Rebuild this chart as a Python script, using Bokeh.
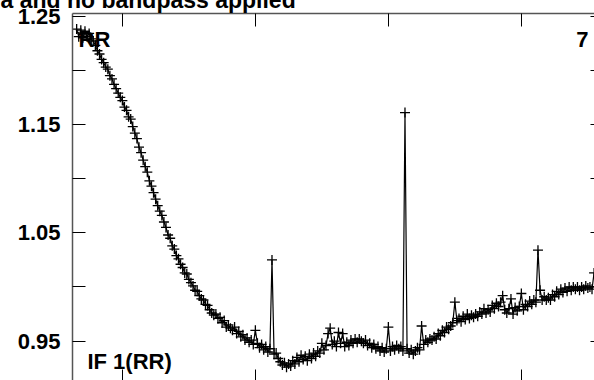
from bokeh.plotting import figure
from bokeh.models import Range1d, LinearAxis, FixedTicker, Label
from bokeh.embed import file_html
from bokeh.resources import INLINE

# ---- data ----
channels = list(range(10, 260))
amplitude = [
    1.238, 1.231, 1.237, 1.230, 1.236, 1.231, 1.234, 1.229, 1.227, 1.223,
    1.218, 1.215, 1.210, 1.207, 1.203, 1.201, 1.195, 1.192, 1.187, 1.183,
    1.179, 1.175, 1.172, 1.166, 1.163, 1.157, 1.155, 1.148, 1.142, 1.137,
    1.129, 1.124, 1.117, 1.111, 1.106, 1.098, 1.093, 1.087, 1.081, 1.075,
    1.070, 1.066, 1.060, 1.055, 1.048, 1.045, 1.038, 1.035, 1.029, 1.026,
    1.021, 1.018, 1.013, 1.012, 1.007, 1.004, 1.001, 0.997, 0.996, 0.992,
    0.989, 0.988, 0.984, 0.983, 0.979, 0.976, 0.974, 0.975, 0.971, 0.972,
    0.967, 0.969, 0.963, 0.965, 0.962, 0.960, 0.963, 0.957, 0.959, 0.954,
    0.956, 0.951, 0.953, 0.949, 0.951, 0.947, 0.960, 0.948, 0.944, 0.947,
    0.942, 0.945, 0.940, 0.943, 1.025, 0.938, 0.939, 0.934, 0.931, 0.928,
    0.930, 0.926, 0.929, 0.927, 0.932, 0.929, 0.935, 0.931, 0.937, 0.933,
    0.936, 0.932, 0.938, 0.934, 0.939, 0.936, 0.941, 0.939, 0.948, 0.942,
    0.946, 0.957, 0.962, 0.947, 0.950, 0.945, 0.958, 0.948, 0.957, 0.945,
    0.949, 0.946, 0.951, 0.948, 0.952, 0.949, 0.952, 0.950, 0.948, 0.951,
    0.946, 0.948, 0.944, 0.947, 0.943, 0.945, 0.941, 0.944, 0.940, 0.943,
    0.963, 0.941, 0.945, 0.942, 0.946, 0.943, 0.945, 0.941, 1.161, 0.943,
    0.939, 0.942, 0.938, 0.941, 0.944, 0.942, 0.964, 0.947, 0.951, 0.949,
    0.952, 0.951, 0.954, 0.952, 0.957, 0.955, 0.960, 0.958, 0.963, 0.961,
    0.964, 0.967, 0.986, 0.969, 0.971, 0.968, 0.973, 0.970, 0.975, 0.971,
    0.974, 0.972, 0.975, 0.973, 0.977, 0.975, 0.980, 0.976, 0.979, 0.977,
    0.983, 0.980, 0.985, 0.982, 0.986, 0.992, 0.979, 0.976, 0.980, 0.989,
    0.975, 0.981, 0.978, 0.982, 0.994, 0.979, 0.984, 0.982, 0.987, 0.984,
    0.988, 0.986, 1.034, 0.997, 0.988, 0.991, 0.988, 0.990, 0.988, 0.993,
    0.991, 0.996, 0.993, 0.998, 0.995, 0.999, 0.996, 1.000, 0.997, 1.000,
    0.998, 1.000, 0.997, 1.000, 0.998, 1.001, 0.999, 1.000, 0.998, 1.013,
]
x_ticks = [32, 96, 160, 224]
y_major_ticks = [0.95, 1.05, 1.15, 1.25]
y_minor_ticks = [1.00, 1.10, 1.20]
x_start, x_end = 8, 259.2
y_start, y_end = 0.9137, 1.2524

title_text = "a and no bandpass applied"
corner_labels = [
    # text, x, y, align
    ("RR", 10.9, 1.2284, "left"),
    ("7", 256.3, 1.2284, "right"),
    ("IF 1(RR)", 15.2, 0.9312, "left"),
]

FONT = "Liberation Sans"

p = figure(width=594, height=380, output_backend="svg", toolbar_location=None,
           x_axis_location="above", y_axis_location="left",
           min_border_left=72, min_border_top=13, min_border_right=0, min_border_bottom=0,
           x_range=Range1d(x_start, x_end), y_range=Range1d(y_start, y_end))
p.grid.visible = False
p.outline_line_color = None
p.background_fill_color = "white"
p.border_fill_color = "white"

# title: only its lower part shows at the very top edge.
# A trailing empty line lifts the visible line while the panel stays thin.
p.title.text = title_text + "\n"
p.title.align = "left"
p.title.vertical_align = "bottom"
p.title.offset = -72
p.title.standoff = -51
p.title.text_line_height = 1.0
p.title.text_font = FONT
p.title.text_font_style = "bold"
p.title.text_font_size = "23px"
p.title.text_color = "black"

def quiet(axis, tick_in, line=True):
    axis.major_tick_in = tick_in
    axis.major_tick_out = 0
    axis.minor_tick_in = tick_in
    axis.minor_tick_out = 0
    axis.major_label_text_font_size = "1px"
    axis.major_label_text_color = None
    axis.major_label_standoff = 0
    axis.axis_line_color = "#555555" if line else None
    axis.axis_line_width = 1.5
    axis.major_tick_line_color = "black"
    axis.minor_tick_line_color = "black"

# top axis (frame line + inward ticks)
top = p.xaxis[0]
top.ticker = FixedTicker(ticks=x_ticks)
quiet(top, 13)

# bottom axis (only inward tick stubs visible)
bottom = LinearAxis(ticker=FixedTicker(ticks=x_ticks))
quiet(bottom, 11, line=False)
p.add_layout(bottom, "below")

# left axis with labels
left = p.yaxis[0]
left.ticker = FixedTicker(ticks=y_major_ticks, minor_ticks=y_minor_ticks)
left.major_tick_in = 13
left.major_tick_out = 0
left.minor_tick_in = 13
left.minor_tick_out = 0
left.axis_line_color = "#555555"
left.axis_line_width = 1.5
left.major_tick_line_color = "black"
left.minor_tick_line_color = "black"
left.major_label_text_font = FONT
left.major_label_text_font_style = "bold"
left.major_label_text_font_size = "22px"
left.major_label_text_color = "black"
left.major_label_standoff = 12

# right axis stubs
right = LinearAxis(ticker=FixedTicker(ticks=y_major_ticks, minor_ticks=y_minor_ticks))
quiet(right, 4, line=False)
p.add_layout(right, "right")

for text, lx, ly, align in corner_labels:
    p.add_layout(Label(x=lx, y=ly, text=text, text_align=align, text_baseline="alphabetic",
                       text_font=FONT, text_font_style="bold", text_font_size="22px",
                       text_color="black", level="underlay"))

p.line(channels, amplitude, line_color="black", line_width=1.2)
p.scatter(channels, amplitude, marker="cross", size=10, line_color="black", line_width=1.3)

open("out.html", "w").write(file_html(p, INLINE))
